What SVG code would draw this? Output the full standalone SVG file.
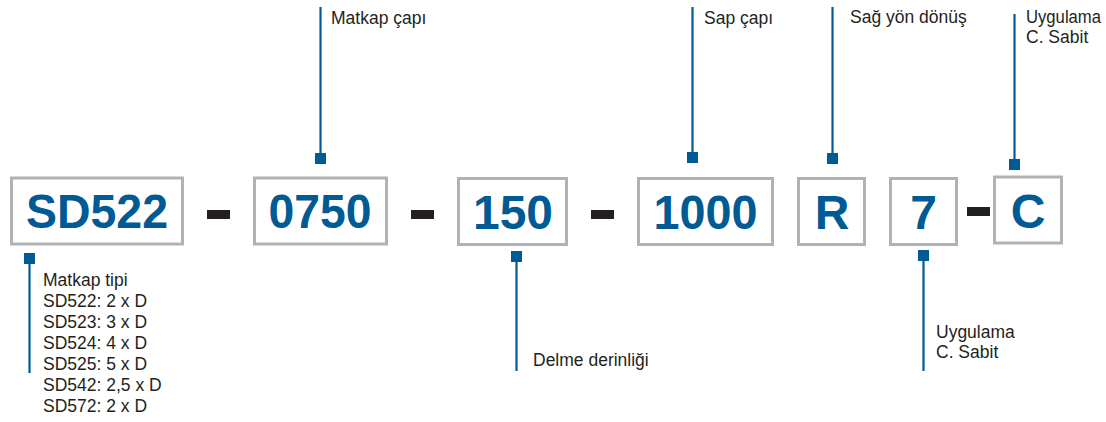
<svg xmlns="http://www.w3.org/2000/svg" width="1106" height="422" viewBox="0 0 1106 422">
<style>
.box{fill:#fff;stroke:#b1b2b5;stroke-width:3}
.code{font-family:"Liberation Sans",Arial,sans-serif;font-weight:bold;font-size:48px;fill:#005a93;text-anchor:middle}
.dash{fill:#231f20}
.lbl{font-family:"Liberation Sans",Arial,sans-serif;font-size:17.5px;fill:#231f20}
.ln{stroke:#005a93;stroke-width:2.2;fill:none}
.sq{fill:#005a93}
</style>
<rect width="1106" height="422" fill="#fff"/>
<g id="connectors">
<line class="ln" x1="29.5" y1="258" x2="29.5" y2="373"/>
<rect class="sq" x="24" y="253" width="11" height="11"/>
<line class="ln" x1="320.5" y1="7" x2="320.5" y2="158"/>
<rect class="sq" x="315" y="153" width="11" height="11"/>
<line class="ln" x1="516.5" y1="256" x2="516.5" y2="371"/>
<rect class="sq" x="511" y="251" width="11" height="11"/>
<line class="ln" x1="692.5" y1="7" x2="692.5" y2="157"/>
<rect class="sq" x="687" y="152" width="11" height="11"/>
<line class="ln" x1="832.5" y1="7" x2="832.5" y2="158"/>
<rect class="sq" x="827" y="153" width="11" height="11"/>
<line class="ln" x1="923.5" y1="255" x2="923.5" y2="371"/>
<rect class="sq" x="918" y="250" width="11" height="11"/>
<line class="ln" x1="1014.5" y1="14" x2="1014.5" y2="164"/>
<rect class="sq" x="1009" y="159" width="11" height="11"/>
</g>
<g id="dashes">
<rect class="dash" x="207" y="210" width="23" height="9"/>
<rect class="dash" x="411" y="210" width="23" height="9"/>
<rect class="dash" x="591" y="210" width="23" height="9"/>
<rect class="dash" x="967" y="207" width="23" height="9"/>
</g>
<g id="node-sd522">
<rect class="box" x="11.5" y="178" width="171" height="66"/>
<text class="code" x="97" y="228" textLength="142" lengthAdjust="spacingAndGlyphs">SD522</text>
</g>
<g id="node-0750">
<rect class="box" x="254.5" y="178" width="132" height="66"/>
<text class="code" x="320" y="228" textLength="103" lengthAdjust="spacingAndGlyphs">0750</text>
</g>
<g id="node-150">
<rect class="box" x="458.5" y="178.5" width="108" height="66"/>
<text class="code" x="513" y="229">150</text>
</g>
<g id="node-1000">
<rect class="box" x="638.5" y="178.5" width="134" height="66"/>
<text class="code" x="705.5" y="229" textLength="104" lengthAdjust="spacingAndGlyphs">1000</text>
</g>
<g id="node-r">
<rect class="box" x="798.5" y="178.5" width="66" height="66"/>
<text class="code" x="832" y="229">R</text>
</g>
<g id="node-7">
<rect class="box" x="890.5" y="178.5" width="66" height="66"/>
<text class="code" x="923.5" y="229">7</text>
</g>
<g id="node-c">
<rect class="box" x="994.5" y="177" width="67" height="66"/>
<text class="code" x="1028" y="228">C</text>
</g>
<g id="label-matkap-tipi">
<text class="lbl" x="43" y="286">Matkap tipi</text>
<text class="lbl" x="43" y="307">SD522: 2 x D</text>
<text class="lbl" x="43" y="328">SD523: 3 x D</text>
<text class="lbl" x="43" y="349">SD524: 4 x D</text>
<text class="lbl" x="43" y="370">SD525: 5 x D</text>
<text class="lbl" x="43" y="391">SD542: 2,5 x D</text>
<text class="lbl" x="43" y="412">SD572: 2 x D</text>
</g>
<g id="label-matkap-capi">
<text class="lbl" x="331" y="24">Matkap çapı</text>
</g>
<g id="label-delme">
<text class="lbl" x="533" y="366">Delme derinliği</text>
</g>
<g id="label-sap">
<text class="lbl" x="704" y="24">Sap çapı</text>
</g>
<g id="label-sag">
<text class="lbl" x="850" y="23">Sağ yön dönüş</text>
</g>
<g id="label-uygulama-bottom">
<text class="lbl" x="936" y="338">Uygulama</text>
<text class="lbl" x="936" y="358">C. Sabit</text>
</g>
<g id="label-uygulama-top">
<text class="lbl" x="1026" y="23" textLength="75" lengthAdjust="spacingAndGlyphs">Uygulama</text>
<text class="lbl" x="1026" y="43">C. Sabit</text>
</g>
</svg>
